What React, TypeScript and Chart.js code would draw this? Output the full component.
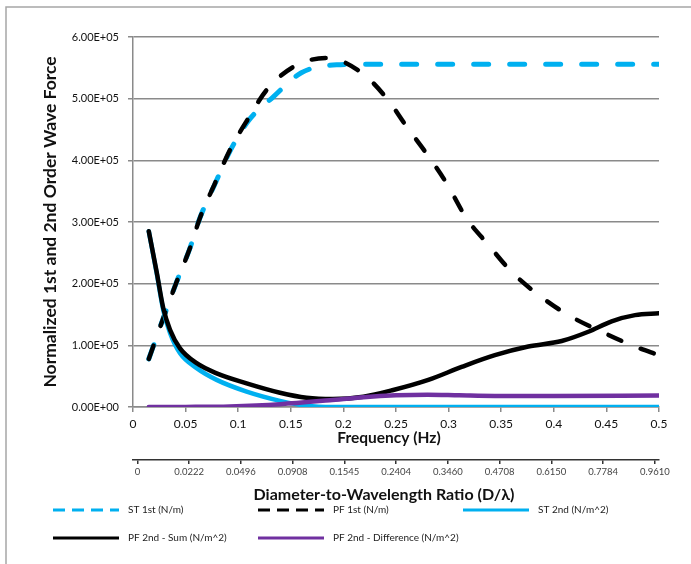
import React, { useEffect, useRef } from 'react';
import { Chart, registerables } from 'chart.js';

Chart.register(...registerables);

// ---- Data ----
// ST 1st (N/m)
const st1Freq = [0.015, 0.0288, 0.0415, 0.054, 0.0637, 0.078, 0.0922, 0.1096, 0.1334, 0.16, 0.1936, 0.228, 0.3, 0.4, 0.5];
const st1Vals = [78000, 144000, 203000, 257000, 307000, 362000, 415000, 464000, 503000, 542000, 555000, 556000, 556000, 556000, 556000];

// PF 1st (N/m)
const pf1Freq = [0.015, 0.0288, 0.0415, 0.054, 0.0637, 0.078, 0.0922, 0.1096, 0.127, 0.154, 0.184, 0.2158, 0.241, 0.26, 0.279, 0.298, 0.317, 0.3378, 0.36, 0.3853, 0.4138, 0.4455, 0.4772, 0.5];
const pf1Vals = [78000, 144000, 203000, 257000, 307000, 363000, 417000, 468000, 514000, 553000, 566000, 544000, 501000, 455000, 411000, 363000, 306000, 263000, 219000, 182000, 149000, 122000, 98000, 84000];

// ST 2nd (N/m^2)
const st2Freq = [0.015, 0.0225, 0.0288, 0.0352, 0.0447, 0.0605, 0.0795, 0.108, 0.1397, 0.165, 0.19, 0.25, 0.35, 0.5];
const st2Vals = [285000, 217000, 157000, 120000, 87000, 63000, 44000, 25000, 10000, 2000, 0, 0, 0, 0];

// PF 2nd - Sum (N/m^2)
const sumFreq = [0.015, 0.0225, 0.0288, 0.0352, 0.0447, 0.0605, 0.0795, 0.108, 0.1397, 0.165, 0.19, 0.219, 0.2474, 0.2807, 0.3124, 0.344, 0.3758, 0.4075, 0.4328, 0.455, 0.4772, 0.5];
const sumVals = [285000, 219000, 160000, 125000, 95000, 71000, 54600, 38400, 23200, 15100, 13000, 16700, 27600, 44000, 65000, 84000, 98000, 107000, 122000, 139000, 149000, 152000];

// PF 2nd - Difference (N/m^2)
const diffFreq = [0.015, 0.05, 0.092, 0.14, 0.187, 0.219, 0.25, 0.28, 0.31, 0.344, 0.4, 0.5];
const diffVals = [0, 200, 1000, 4500, 11000, 16000, 19000, 20000, 19000, 18000, 18000, 18500];

// Secondary axis labels (Diameter-to-Wavelength ratio at each 0.05 Hz step)
const dlTickLabels = ['0', '0.0222', '0.0496', '0.0908', '0.1545', '0.2404', '0.3460', '0.4708', '0.6150', '0.7784', '0.9610'];
const freqTickValues = [0, 0.05, 0.1, 0.15, 0.2, 0.25, 0.3, 0.35, 0.4, 0.45, 0.5];

const seriesLabels = ['ST 1st (N/m)', 'PF 1st (N/m)', 'ST 2nd (N/m^2)', 'PF 2nd - Sum (N/m^2)', 'PF 2nd - Difference (N/m^2)'];
const xTitle = 'Frequency (Hz)';
const x2Title = 'Diameter-to-Wavelength Ratio (D/λ)';
const yTitle = 'Normalized 1st and 2nd Order Wave Force';

const BLUE = '#00b0f0';
const BLACK = '#000000';
const PURPLE = '#7030a0';
const GRID = '#8a8a8a';

const toPoints = (xs: number[], ys: number[]) => xs.map((x, i) => ({ x, y: ys[i] }));

const fmtExp = (v: number) => {
  const [m, e] = Number(v).toExponential(2).split('e');
  const sign = e[0] === '-' ? '-' : '+';
  const digits = e.replace(/^[+-]/, '').padStart(2, '0');
  return `${m}E${sign}${digits}`;
};

const framePlugin = {
  id: 'frame',
  beforeDraw(chart: any) {
    const ctx = chart.ctx;
    ctx.save();
    ctx.fillStyle = '#ffffff';
    ctx.fillRect(0, 0, chart.width, chart.height);
    ctx.strokeStyle = '#a6a6a6';
    ctx.lineWidth = 1.5;
    ctx.strokeRect(6, 7, chart.width + 50, chart.height + 50);
    ctx.restore();
  },
};

// bottom axis titles (Excel centres them slightly left of the plot centre)
const bottomTitlesPlugin = {
  id: 'bottomTitles',
  afterDraw(chart: any) {
    const ctx = chart.ctx;
    const ca = chart.chartArea;
    const cx = (ca.left + ca.right) / 2;
    const x2 = chart.scales.x2;
    ctx.save();
    ctx.fillStyle = '#111';
    ctx.textAlign = 'center';
    ctx.textBaseline = 'middle';
    ctx.font = 'bold 15.5px Lato';
    ctx.fillText(xTitle, cx - 7, ca.bottom + 31);
    ctx.font = 'bold 16px Lato';
    ctx.fillText(x2Title, cx - 12, x2.top + 35);
    ctx.restore();
  },
};

const legendPlugin = {
  id: 'gridLegend',
  afterDraw(chart: any) {
    const ctx = chart.ctx;
    const cols = [53, 258, 463];
    const rows = [510, 538];
    const symLen = 66;
    ctx.save();
    chart.data.datasets.forEach((ds: any, i: number) => {
      const col = cols[i % 3];
      const row = rows[Math.floor(i / 3)];
      ctx.beginPath();
      ctx.strokeStyle = ds.borderColor;
      ctx.lineWidth = 3;
      ctx.lineCap = 'butt';
      ctx.setLineDash(ds.borderDash && ds.borderDash.length ? [12, 7] : []);
      ctx.moveTo(col, row);
      ctx.lineTo(col + symLen, row);
      ctx.stroke();
      ctx.setLineDash([]);
      ctx.fillStyle = '#222';
      ctx.font = '10px Lato';
      ctx.textBaseline = 'middle';
      ctx.textAlign = 'left';
      ctx.fillText(ds.label, col + 75, row);
    });
    ctx.restore();
  },
};

export default function App() {
  const ref = useRef<HTMLCanvasElement>(null);

  useEffect(() => {
    document.body.style.margin = '0';
    Chart.defaults.font.family = 'Lato';
    const lineBase = {
      pointRadius: 0,
      pointHoverRadius: 0,
      fill: false,
      cubicInterpolationMode: 'monotone' as const,
      borderCapStyle: 'round' as const,
    };
    const chart = new Chart(ref.current as HTMLCanvasElement, {
      type: 'line',
      data: {
        datasets: [
          { ...lineBase, label: seriesLabels[0], data: toPoints(st1Freq, st1Vals), borderColor: BLUE, borderWidth: 5, borderDash: [15, 21], order: 5 },
          { ...lineBase, label: seriesLabels[1], data: toPoints(pf1Freq, pf1Vals), borderColor: BLACK, borderWidth: 4.5, borderDash: [14, 21], order: 4 },
          { ...lineBase, label: seriesLabels[2], data: toPoints(st2Freq, st2Vals), borderColor: BLUE, borderWidth: 4.5, order: 3 },
          { ...lineBase, label: seriesLabels[3], data: toPoints(sumFreq, sumVals), borderColor: BLACK, borderWidth: 4.5, order: 2 },
          { ...lineBase, label: seriesLabels[4], data: toPoints(diffFreq, diffVals), borderColor: PURPLE, borderWidth: 4.5, order: 1 },
        ],
      },
      options: {
        responsive: false,
        animation: false,
        events: [],
        layout: { padding: { left: 0, top: 37, right: 32, bottom: 44 } },
        plugins: {
          legend: { display: false },
          tooltip: { enabled: false },
        },
        scales: {
          x: {
            type: 'linear',
            position: 'bottom',
            weight: 0,
            min: 0,
            max: 0.5,
            afterBuildTicks: (s: any) => { s.ticks = freqTickValues.map((v) => ({ value: v })); },
            afterFit: (s: any) => { s.height = 53; s.paddingLeft = 0; s.paddingRight = 0; },
            grid: { drawOnChartArea: false, drawTicks: true, tickLength: 5, color: GRID, lineWidth: 1.5 },
            border: { display: true, color: GRID, width: 1.5 },
            ticks: {
              color: '#111',
              font: { size: 12 },
              padding: 5,
              maxRotation: 0,
              autoSkip: false,
              callback: (v: any) => String(Number(Number(v).toFixed(2))),
            },
            title: { display: false, text: xTitle },
          },
          x2: {
            type: 'linear',
            position: 'bottom',
            weight: 1,
            min: -0.0043,
            max: 0.5039,
            afterBuildTicks: (s: any) => { s.ticks = freqTickValues.map((v) => ({ value: v })); },
            afterFit: (s: any) => { s.height = 60; s.paddingLeft = 0; s.paddingRight = 0; },
            grid: { drawOnChartArea: false, drawTicks: true, tickLength: 4, color: '#333', lineWidth: 1.5 },
            border: { display: true, color: '#333', width: 1.5 },
            ticks: {
              color: '#444',
              font: { size: 9.5 },
              padding: 2,
              maxRotation: 0,
              autoSkip: false,
              callback: (_v: any, i: number) => dlTickLabels[i],
            },
            title: { display: false, text: x2Title },
          },
          y: {
            type: 'linear',
            position: 'left',
            min: 0,
            max: 600000,
            afterFit: (s: any) => { s.width = 133; s.paddingTop = 0; s.paddingBottom = 0; },
            grid: { drawOnChartArea: true, drawTicks: true, tickLength: 5, color: GRID, lineWidth: 1.5 },
            border: { display: true, color: GRID, width: 1.5 },
            ticks: {
              stepSize: 100000,
              color: '#111',
              font: { size: 11 },
              padding: 9,
              callback: (v: any) => fmtExp(Number(v)),
            },
            title: {
              display: true,
              text: yTitle,
              color: '#111',
              font: { size: 17.5, weight: 'bold' },
              padding: { top: 40, bottom: 0 },
            },
          },
        },
      },
      plugins: [framePlugin, bottomTitlesPlugin, legendPlugin],
    });
    return () => chart.destroy();
  }, []);

  return (
    <div style={{ position: 'relative', width: 691, height: 564 }}>
      <canvas ref={ref} width={691} height={564} style={{ display: 'block' }} />
    </div>
  );
}
